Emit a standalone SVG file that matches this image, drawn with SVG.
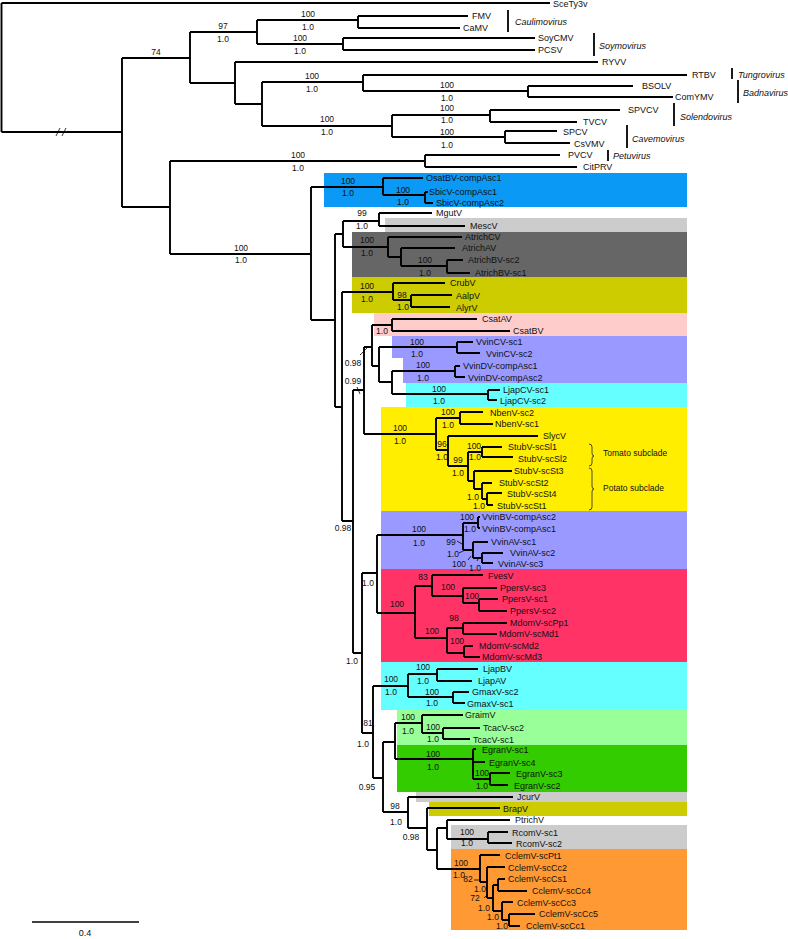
<svg xmlns="http://www.w3.org/2000/svg" width="788" height="939" viewBox="0 0 788 939">
<style>
text{font-family:"Liberation Sans",Arial,Helvetica,sans-serif;fill:#111}
.t{font-size:9px}
.s{font-size:8.5px;text-anchor:middle}
.g{font-size:9px;font-style:italic}
.tree{fill:none;stroke:#000;stroke-width:1.9}
.bar{stroke:#000;stroke-width:1.8}
.tk{stroke:#000;stroke-width:0.8}
.br{fill:none;stroke:#222;stroke-width:0.8}
</style>
<rect width="788" height="939" fill="#fff"/>
<g id="clade-boxes">
<rect x="324" y="173" width="363" height="34" fill="#0a99f5"/>
<rect x="385" y="218" width="302" height="14" fill="#cccccc"/>
<rect x="352" y="232" width="335" height="45" fill="#666666"/>
<rect x="352" y="277" width="335" height="36" fill="#cccc00"/>
<rect x="374" y="313" width="313" height="23" fill="#ffcccc"/>
<rect x="392" y="336" width="295" height="22" fill="#9999ff"/>
<rect x="403" y="358" width="284" height="25" fill="#9999ff"/>
<rect x="406" y="383" width="281" height="24" fill="#66ffff"/>
<rect x="381" y="407" width="306" height="104" fill="#ffee00"/>
<rect x="381" y="511" width="306" height="58" fill="#9999ff"/>
<rect x="381" y="569" width="306" height="93" fill="#ff3366"/>
<rect x="381" y="662" width="306" height="48" fill="#66ffff"/>
<rect x="397" y="710" width="290" height="35" fill="#99ff99"/>
<rect x="397" y="745" width="290" height="47" fill="#33cc00"/>
<rect x="416" y="792" width="271" height="10" fill="#cccccc"/>
<rect x="429" y="802" width="258" height="14" fill="#cccc00"/>
<rect x="451" y="825" width="236" height="24" fill="#cccccc"/>
<rect x="451" y="849" width="236" height="81" fill="#ff9933"/>
</g>
<g id="connectors">
<path class="tree" d="M1.5,3V132 M1.5,3H550 M1.5,132H122
M122,58V207 M122,58H190 M122,207H170
M190,32V83 M190,32H257 M190,83H235
M257,20V44 M257,20H358 M257,44H343
M358,16V28 M358,16H468 M358,28H460
M343,38V50 M343,38H535 M343,50H535
M235,62V104 M235,62H598 M235,104H262
M262,82V126 M262,82H363 M262,126H392
M363,75V91 M363,75H687 M363,91H528
M528,86V97 M528,86H633 M528,97H673
M392,115V137 M392,115H490 M392,137H505
M490,110V122 M490,110H620 M490,122H577
M505,131V143 M505,131H557 M505,143H570
M170,161V254 M170,161H425 M170,254H311
M425,155V167 M425,155H560 M425,167H577"/>
<path class="tree" d="M311,187V320 M311,187H383 M311,320H335
M383,178V195 M383,178H423 M383,195H425
M425,192V203 M425,192H428 M425,203H433
M335,234V407 M335,234H343 M335,407H342
M343,221V247 M343,221H379 M343,247H388
M379,213V226 M379,213H432 M379,226H465
M388,237V257 M388,237H462 M388,257H401
M401,248V266 M401,248H455 M401,266H447
M447,260V273 M447,260H463 M447,273H470
M342,292V521 M342,292H393 M342,521H353
M393,283V300 M393,283H445 M393,300H411
M411,295V307 M411,295H452 M411,307H450
M353,390V653 M353,390H364 M353,653H362
M364,347V434 M364,347H372 M364,434H436
M372,325V366 M372,325H392 M372,366H379
M392,319V331 M392,319H477 M392,331H510
M379,347V382 M379,347H457 M379,382H392
M457,342V353 M457,342H473 M457,353H480
M392,371V394 M392,371H455 M392,394H488
M455,366V377 M455,366H460 M455,377H465
M488,390V400 M488,390H500 M488,400H497
M436,418V450 M436,418H460 M436,450H448
M460,412V424 M460,412H483 M460,424H493
M448,436V466 M448,436H538 M448,466H468
M468,452V481 M468,452H482 M468,481H474
M482,447V457 M482,447H502 M482,457H513
M474,471V489 M474,471H512 M474,489H482
M482,483V499 M482,483H492 M482,499H487
M487,493V505 M487,493H502 M487,505H493
M362,573V733 M362,573H377 M362,733H373
M377,535V613 M377,535H463 M377,613H415
M463,523V550 M463,523H478 M463,550H473
M478,517V528 M478,517H480 M478,528H480
M473,542V558 M473,542H488 M473,558H482
M482,553V563 M482,553H503 M482,563H493
M415,586V638 M415,586H432 M415,638H447
M432,575V596 M432,575H483 M432,596H463
M463,588V603 M463,588H497 M463,603H479
M479,599V611 M479,599H498 M479,611H507
M447,628V653 M447,628H463 M447,653H464
M463,623V634 M463,623H507 M463,634H497
M464,646V657 M464,646H473 M464,657H480
M373,686V778 M373,686H408 M373,778H383
M408,674V697 M408,674H437 M408,697H453
M437,669V681 M437,669H478 M437,681H472
M453,692V703 M453,692H469 M453,703H465
M383,742V812 M383,742H395 M383,812H408
M395,723V759 M395,723H422 M395,759H473
M422,715V733 M422,715H463 M422,733H443
M443,728V739 M443,728H480 M443,739H470
M473,749V779 M473,749H476 M473,762H485 M473,779H490
M490,773V785 M490,773H510 M490,785H508
M408,797V828 M408,797H513 M408,828H427
M427,808V850 M427,808H500 M427,850H437
M437,828V869 M437,828H447 M437,869H480
M447,820V839 M447,820H510 M447,839H488
M488,832V843 M488,832H508 M488,843H512
M480,855V882 M480,855H500 M480,882H487
M487,867V898 M487,867H505 M487,898H493
M493,885V911 M493,885H498 M493,911H502
M498,879V891 M498,879H505 M498,891H527
M502,902V920 M502,902H513 M502,920H509
M509,914V926 M509,914H535 M509,926H520"/>
<path class="tk" d="M56,136L60,128 M62,136L66,128"/>
<path class="tk" d="M360,355L368,347 M357,387L360,394 M457,541L462,544 M459,553L465,550 M468,560L471,556 M477,561L479,557 M474,880H479 M484,898L488,894"/>
</g>
<g id="genus-labels">
<line class="bar" x1="508" y1="10" x2="508" y2="32"/><text class="g" x="515" y="25">Caulimovirus</text>
<line class="bar" x1="594" y1="33" x2="594" y2="56"/><text class="g" x="599" y="49">Soymovirus</text>
<line class="bar" x1="732" y1="68" x2="732" y2="79"/><text class="g" x="738" y="78">Tungrovirus</text>
<line class="bar" x1="738" y1="80" x2="738" y2="103"/><text class="g" x="743" y="96">Badnavirus</text>
<line class="bar" x1="674" y1="103" x2="674" y2="126"/><text class="g" x="680" y="120">Solendovirus</text>
<line class="bar" x1="627" y1="125" x2="627" y2="148"/><text class="g" x="632" y="142">Cavemovirus</text>
<line class="bar" x1="608" y1="150" x2="608" y2="161"/><text class="g" x="613" y="159">Petuvirus</text>
</g>
<g id="subclades">
<path class="br" d="M589,444q3,0 3,3v6q0,3 2,3q-2,0 -2,3v4q0,3 -3,3"/>
<text x="603" y="456" style="font-size:8.5px">Tomato subclade</text>
<path class="br" d="M589,468q3,0 3,3v15q0,3 2,3q-2,0 -2,3v15q0,3 -3,3"/>
<text x="603" y="491" style="font-size:8.5px">Potato subclade</text>
</g>
<g id="leaves" class="t">
<g id="n-SceTy3v"><text class="t" x="553" y="7">SceTy3v</text></g>
<g id="n-FMV"><text class="t" x="472" y="19">FMV</text></g>
<g id="n-CaMV"><text class="t" x="463" y="31">CaMV</text></g>
<g id="n-SoyCMV"><text class="t" x="538" y="41">SoyCMV</text></g>
<g id="n-PCSV"><text class="t" x="538" y="53">PCSV</text></g>
<g id="n-RYVV"><text class="t" x="602" y="65">RYVV</text></g>
<g id="n-RTBV"><text class="t" x="692" y="78">RTBV</text></g>
<g id="n-BSOLV"><text class="t" x="642" y="89">BSOLV</text></g>
<g id="n-ComYMV"><text class="t" x="675" y="100">ComYMV</text></g>
<g id="n-SPVCV"><text class="t" x="628" y="113">SPVCV</text></g>
<g id="n-TVCV"><text class="t" x="583" y="125">TVCV</text></g>
<g id="n-SPCV"><text class="t" x="563" y="135">SPCV</text></g>
<g id="n-CsVMV"><text class="t" x="574" y="147">CsVMV</text></g>
<g id="n-PVCV"><text class="t" x="568" y="158">PVCV</text></g>
<g id="n-CitPRV"><text class="t" x="583" y="170">CitPRV</text></g>
<g id="n-OsatBV-compAsc1"><text class="t" x="426" y="181">OsatBV-compAsc1</text></g>
<g id="n-SbicV-compAsc1"><text class="t" x="429" y="195">SbicV-compAsc1</text></g>
<g id="n-SbicV-compAsc2"><text class="t" x="436" y="206">SbicV-compAsc2</text></g>
<g id="n-MgutV"><text class="t" x="436" y="216">MgutV</text></g>
<g id="n-MescV"><text class="t" x="470" y="229">MescV</text></g>
<g id="n-AtrichCV"><text class="t" x="465" y="240">AtrichCV</text></g>
<g id="n-AtrichAV"><text class="t" x="462" y="251">AtrichAV</text></g>
<g id="n-AtrichBV-sc2"><text class="t" x="468" y="263">AtrichBV-sc2</text></g>
<g id="n-AtrichBV-sc1"><text class="t" x="475" y="276">AtrichBV-sc1</text></g>
<g id="n-CrubV"><text class="t" x="450" y="286">CrubV</text></g>
<g id="n-AalpV"><text class="t" x="456" y="299">AalpV</text></g>
<g id="n-AlyrV"><text class="t" x="456" y="311">AlyrV</text></g>
<g id="n-CsatAV"><text class="t" x="482" y="322">CsatAV</text></g>
<g id="n-CsatBV"><text class="t" x="513" y="334">CsatBV</text></g>
<g id="n-VvinCV-sc1"><text class="t" x="476" y="345">VvinCV-sc1</text></g>
<g id="n-VvinCV-sc2"><text class="t" x="486" y="357">VvinCV-sc2</text></g>
<g id="n-VvinDV-compAsc1"><text class="t" x="463" y="369">VvinDV-compAsc1</text></g>
<g id="n-VvinDV-compAsc2"><text class="t" x="468" y="381">VvinDV-compAsc2</text></g>
<g id="n-LjapCV-sc1"><text class="t" x="503" y="393">LjapCV-sc1</text></g>
<g id="n-LjapCV-sc2"><text class="t" x="500" y="404">LjapCV-sc2</text></g>
<g id="n-NbenV-sc2"><text class="t" x="490" y="416">NbenV-sc2</text></g>
<g id="n-NbenV-sc1"><text class="t" x="495" y="427">NbenV-sc1</text></g>
<g id="n-SlycV"><text class="t" x="543" y="439">SlycV</text></g>
<g id="n-StubV-scSl1"><text class="t" x="508" y="450">StubV-scSl1</text></g>
<g id="n-StubV-scSl2"><text class="t" x="518" y="462">StubV-scSl2</text></g>
<g id="n-StubV-scSt3"><text class="t" x="514" y="474">StubV-scSt3</text></g>
<g id="n-StubV-scSt2"><text class="t" x="499" y="486">StubV-scSt2</text></g>
<g id="n-StubV-scSt4"><text class="t" x="507" y="497">StubV-scSt4</text></g>
<g id="n-StubV-scSt1"><text class="t" x="497" y="509">StubV-scSt1</text></g>
<g id="n-VvinBV-compAsc2"><text class="t" x="482" y="520">VvinBV-compAsc2</text></g>
<g id="n-VvinBV-compAsc1"><text class="t" x="482" y="532">VvinBV-compAsc1</text></g>
<g id="n-VvinAV-sc1"><text class="t" x="491" y="545">VvinAV-sc1</text></g>
<g id="n-VvinAV-sc2"><text class="t" x="510" y="556">VvinAV-sc2</text></g>
<g id="n-VvinAV-sc3"><text class="t" x="498" y="567">VvinAV-sc3</text></g>
<g id="n-FvesV"><text class="t" x="488" y="579">FvesV</text></g>
<g id="n-PpersV-sc3"><text class="t" x="500" y="591">PpersV-sc3</text></g>
<g id="n-PpersV-sc1"><text class="t" x="502" y="602">PpersV-sc1</text></g>
<g id="n-PpersV-sc2"><text class="t" x="510" y="614">PpersV-sc2</text></g>
<g id="n-MdomV-scPp1"><text class="t" x="510" y="626">MdomV-scPp1</text></g>
<g id="n-MdomV-scMd1"><text class="t" x="499" y="637">MdomV-scMd1</text></g>
<g id="n-MdomV-scMd2"><text class="t" x="479" y="649">MdomV-scMd2</text></g>
<g id="n-MdomV-scMd3"><text class="t" x="482" y="660">MdomV-scMd3</text></g>
<g id="n-LjapBV"><text class="t" x="483" y="672">LjapBV</text></g>
<g id="n-LjapAV"><text class="t" x="478" y="684">LjapAV</text></g>
<g id="n-GmaxV-sc2"><text class="t" x="472" y="695">GmaxV-sc2</text></g>
<g id="n-GmaxV-sc1"><text class="t" x="467" y="707">GmaxV-sc1</text></g>
<g id="n-GraimV"><text class="t" x="465" y="718">GraimV</text></g>
<g id="n-TcacV-sc2"><text class="t" x="483" y="731">TcacV-sc2</text></g>
<g id="n-TcacV-sc1"><text class="t" x="473" y="743">TcacV-sc1</text></g>
<g id="n-EgranV-sc1"><text class="t" x="482" y="753">EgranV-sc1</text></g>
<g id="n-EgranV-sc4"><text class="t" x="489" y="766">EgranV-sc4</text></g>
<g id="n-EgranV-sc3"><text class="t" x="516" y="777">EgranV-sc3</text></g>
<g id="n-EgranV-sc2"><text class="t" x="514" y="789">EgranV-sc2</text></g>
<g id="n-JcurV"><text class="t" x="517" y="800">JcurV</text></g>
<g id="n-BrapV"><text class="t" x="503" y="812">BrapV</text></g>
<g id="n-PtrichV"><text class="t" x="515" y="823">PtrichV</text></g>
<g id="n-RcomV-sc1"><text class="t" x="512" y="836">RcomV-sc1</text></g>
<g id="n-RcomV-sc2"><text class="t" x="516" y="847">RcomV-sc2</text></g>
<g id="n-CclemV-scPt1"><text class="t" x="505" y="859">CclemV-scPt1</text></g>
<g id="n-CclemV-scCc2"><text class="t" x="508" y="871">CclemV-scCc2</text></g>
<g id="n-CclemV-scCs1"><text class="t" x="508" y="882">CclemV-scCs1</text></g>
<g id="n-CclemV-scCc4"><text class="t" x="532" y="894">CclemV-scCc4</text></g>
<g id="n-CclemV-scCc3"><text class="t" x="517" y="906">CclemV-scCc3</text></g>
<g id="n-CclemV-scCc5"><text class="t" x="539" y="917">CclemV-scCc5</text></g>
<g id="n-CclemV-scCc1"><text class="t" x="526" y="929">CclemV-scCc1</text></g>
</g>
<g id="support-values">
<text class="s" x="156" y="55">74</text>
<text class="s" x="223" y="29">97</text><text class="s" x="223" y="42">1.0</text>
<text class="s" x="308" y="17">100</text><text class="s" x="308" y="30">1.0</text>
<text class="s" x="300" y="41">100</text><text class="s" x="300" y="54">1.0</text>
<text class="s" x="312" y="79">100</text><text class="s" x="312" y="92">1.0</text>
<text class="s" x="447" y="88">100</text><text class="s" x="447" y="101">1.0</text>
<text class="s" x="327" y="122">100</text><text class="s" x="327" y="135">1.0</text>
<text class="s" x="447" y="111">100</text><text class="s" x="447" y="123">1.0</text>
<text class="s" x="447" y="135">100</text><text class="s" x="447" y="148">1.0</text>
<text class="s" x="298" y="158">100</text><text class="s" x="298" y="171">1.0</text>
<text class="s" x="241" y="251">100</text><text class="s" x="241" y="263">1.0</text>
<text class="s" x="348" y="184">100</text><text class="s" x="348" y="196">1.0</text>
<text class="s" x="403" y="193">100</text><text class="s" x="403" y="205">1.0</text>
<text class="s" x="362" y="216">99</text><text class="s" x="362" y="229">1.0</text>
<text class="s" x="367" y="243">100</text><text class="s" x="367" y="256">1.0</text>
<text class="s" x="425" y="263">100</text><text class="s" x="425" y="276">1.0</text>
<text class="s" x="367" y="289">100</text><text class="s" x="367" y="302">1.0</text>
<text class="s" x="402" y="298">98</text><text class="s" x="403" y="310">1.0</text>
<text class="s" x="343" y="531">0.98</text>
<text class="s" x="353" y="384">0.99</text>
<text class="s" x="353" y="366">0.98</text>
<text class="s" x="382" y="334">1.0</text>
<text class="s" x="417" y="345">100</text><text class="s" x="417" y="357">1.0</text>
<text class="s" x="423" y="368">100</text><text class="s" x="423" y="381">1.0</text>
<text class="s" x="439" y="392">100</text><text class="s" x="439" y="404">1.0</text>
<text class="s" x="400" y="431">100</text><text class="s" x="400" y="444">1.0</text>
<text class="s" x="448" y="415">100</text><text class="s" x="448" y="428">1.0</text>
<text class="s" x="442" y="447">96</text><text class="s" x="442" y="460">1.0</text>
<text class="s" x="458" y="463">99</text><text class="s" x="458" y="476">1.0</text>
<text class="s" x="474" y="449">100</text><text class="s" x="475" y="460">1.0</text>
<text class="s" x="473" y="500">1.0</text><text class="s" x="479" y="509">1.0</text>
<text class="s" x="352" y="664">1.0</text>
<text class="s" x="368" y="586">1.0</text>
<text class="s" x="419" y="532">100</text><text class="s" x="419" y="546">1.0</text>
<text class="s" x="467" y="520">100</text><text class="s" x="470" y="532">1.0</text>
<text class="s" x="451" y="545">99</text><text class="s" x="453" y="557">1.0</text>
<text class="s" x="459" y="567">100</text><text class="s" x="475" y="571">1.0</text>
<text class="s" x="397" y="607">100</text>
<text class="s" x="423" y="580">83</text>
<text class="s" x="448" y="590">100</text>
<text class="s" x="472" y="599">100</text>
<text class="s" x="432" y="634">100</text>
<text class="s" x="454" y="621">98</text>
<text class="s" x="457" y="644">100</text>
<text class="s" x="368" y="726">81</text><text class="s" x="363" y="747">1.0</text>
<text class="s" x="391" y="682">100</text><text class="s" x="391" y="695">1.0</text>
<text class="s" x="423" y="670">100</text><text class="s" x="423" y="684">1.0</text>
<text class="s" x="432" y="695">100</text><text class="s" x="432" y="706">1.0</text>
<text class="s" x="367" y="790">0.95</text>
<text class="s" x="408" y="720">100</text><text class="s" x="408" y="734">1.0</text>
<text class="s" x="433" y="730">100</text><text class="s" x="433" y="742">1.0</text>
<text class="s" x="433" y="757">100</text><text class="s" x="433" y="770">1.0</text>
<text class="s" x="482" y="776">100</text><text class="s" x="482" y="789">1.0</text>
<text class="s" x="395" y="809">98</text><text class="s" x="396" y="825">1.0</text>
<text class="s" x="411" y="840">0.98</text>
<text class="s" x="467" y="835">100</text><text class="s" x="467" y="846">1.0</text>
<text class="s" x="461" y="866">100</text><text class="s" x="459" y="878">1.0</text>
<text class="s" x="468" y="882">82</text><text class="s" x="480" y="892">1.0</text>
<text class="s" x="475" y="901">72</text><text class="s" x="484" y="911">1.0</text>
<text class="s" x="493" y="920">1.0</text><text class="s" x="502" y="929">1.0</text>
</g>
<g id="scale-bar">
<line x1="32" y1="922" x2="139" y2="922" stroke="#000" stroke-width="1.5"/>
<text class="s" x="85" y="936" style="font-size:9px">0.4</text>
</g>
</svg>
